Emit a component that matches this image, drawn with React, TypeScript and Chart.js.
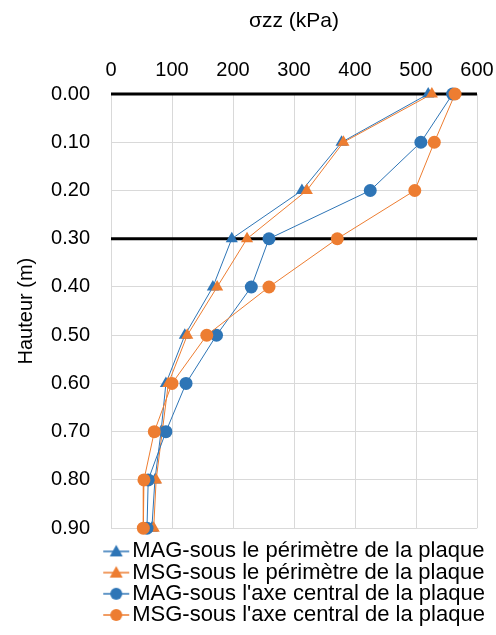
import React, { useEffect, useRef } from "react";
import { Chart, registerables } from "chart.js";

Chart.register(...registerables);

const depths = [0, 0.1, 0.2, 0.3, 0.4, 0.5, 0.6, 0.7, 0.8, 0.9];
const magPerimetre = [520, 378, 313, 198, 167, 121, 90, 82, 72, 67];
const msgPerimetre = [526, 381, 321, 223, 174, 125, 94, 84, 74, 70];
const magAxe = [560, 508, 425, 259, 230, 173, 123, 90, 61, 59];
const msgAxe = [564, 530, 498, 371, 259, 157, 100, 71, 54, 53];
const referenceDepths = [0, 0.3];
const xRange = [0, 600];

const seriesNames = [
  "MAG-sous le périmètre de la plaque",
  "MSG-sous le périmètre de la plaque",
  "MAG-sous l'axe central de la plaque",
  "MSG-sous l'axe central de la plaque",
];

const BLUE = "#2E75B6";
const ORANGE = "#ED7D31";
const FONT = "'Liberation Sans', Arial, sans-serif";

function legendIcon(color: string, style: "triangle" | "circle") {
  const c = document.createElement("canvas");
  c.width = 60;
  c.height = 16;
  const ctx = c.getContext("2d")!;
  ctx.strokeStyle = color;
  ctx.lineWidth = 1.5;
  ctx.beginPath();
  ctx.moveTo(27, 8);
  ctx.lineTo(53, 8);
  ctx.stroke();
  ctx.fillStyle = color;
  ctx.beginPath();
  if (style === "circle") {
    ctx.arc(40, 8, 6, 0, Math.PI * 2);
  } else {
    ctx.moveTo(40, 1.5);
    ctx.lineTo(46.5, 13);
    ctx.lineTo(33.5, 13);
    ctx.closePath();
  }
  ctx.fill();
  return c;
}

export default function App() {
  const ref = useRef<HTMLCanvasElement | null>(null);

  useEffect(() => {
    if (!ref.current) return;
    const toPts = (vals: number[]) => vals.map((v, i) => ({ x: v, y: depths[i] }));
    const icons = [
      legendIcon(BLUE, "triangle"),
      legendIcon(ORANGE, "triangle"),
      legendIcon(BLUE, "circle"),
      legendIcon(ORANGE, "circle"),
    ];
    const mk = (label: string, vals: number[], color: string, ps: string, r: number) => ({
      label,
      data: toPts(vals),
      borderColor: color,
      backgroundColor: color,
      borderWidth: 1,
      pointStyle: ps,
      pointRadius: r,
      pointHoverRadius: r,
      pointBorderWidth: 0,
      showLine: true,
      fill: false,
      tension: 0,
      clip: false,
    });
    const refLines = referenceDepths.map((d) => ({
      label: "ref" + d,
      data: xRange.map((x) => ({ x, y: d })),
      borderColor: "#000000",
      backgroundColor: "#000000",
      borderWidth: 3,
      pointRadius: 0,
      showLine: true,
      fill: false,
      clip: false,
    }));

    const shiftLegend = {
      id: "shiftLegend",
      afterLayout(chart: any) {
        const lg = chart.legend;
        if (lg) {
          const w = lg.right - lg.left;
          lg.left = 92;
          lg.right = 92 + w;
          lg.top += 13;
          lg.bottom += 13;
        }
      },
    };

    const chart = new Chart(ref.current, {
      type: "scatter",
      data: {
        datasets: [
          mk(seriesNames[3], msgAxe, ORANGE, "circle", 6.5),
          mk(seriesNames[2], magAxe, BLUE, "circle", 6.5),
          mk(seriesNames[1], msgPerimetre, ORANGE, "triangle", 7),
          mk(seriesNames[0], magPerimetre, BLUE, "triangle", 7),
          ...refLines,
        ] as any,
      },
      plugins: [shiftLegend],
      options: {
        animation: false,
        responsive: false,
        maintainAspectRatio: false,
        layout: { padding: { left: 8, right: 19, top: 6, bottom: 12 } },
        plugins: {
          tooltip: { enabled: false },
          legend: {
            position: "bottom",
            align: "start",
            labels: {
              font: { family: FONT, size: 22 },
              color: "#000000",
              usePointStyle: true,
              pointStyleWidth: 30,
              padding: -0.8,
              generateLabels: () =>
                seriesNames.map((name, i) => ({
                  text: name,
                  pointStyle: icons[i] as any,
                  fillStyle: "transparent",
                  strokeStyle: "transparent",
                  lineWidth: 0,
                  datasetIndex: 3 - i,
                  hidden: false,
                })),
            },
          },
        },
        scales: {
          x: {
            type: "linear",
            position: "top",
            min: 0,
            max: 600,
            afterFit: (s: any) => {
              s.height = 88;
              s.paddingLeft = 0;
              s.paddingRight = 0;
            },
            ticks: { stepSize: 100, color: "#000000", font: { family: FONT, size: 20 }, padding: 12 },
            grid: { color: "#d9d9d9", drawTicks: false, lineWidth: 1 },
            border: { display: false },
            title: {
              display: true,
              text: "σzz (kPa)",
              color: "#000000",
              font: { family: FONT, size: 21 },
              padding: { top: 3, bottom: 24 },
            },
          },
          y: {
            type: "linear",
            reverse: true,
            min: 0,
            max: 0.9,
            afterFit: (s: any) => {
              s.width = 103;
            },
            ticks: {
              stepSize: 0.1,
              color: "#000000",
              font: { family: FONT, size: 20 },
              padding: 21,
              callback: (v: any) => Number(v).toFixed(2),
            },
            grid: { color: "#d9d9d9", drawTicks: false, lineWidth: 1 },
            border: { display: false },
            title: {
              display: true,
              text: "Hauteur (m)",
              color: "#000000",
              font: { family: FONT, size: 20 },
              padding: { top: 6, bottom: 13 },
            },
          },
        },
      },
    });
    return () => chart.destroy();
  }, []);

  return (
    <div style={{ position: "fixed", left: 0, top: 0, width: 496, height: 635, background: "#fff" }}>
      <canvas ref={ref} width={496} height={635} style={{ width: 496, height: 635 }} />
    </div>
  );
}
